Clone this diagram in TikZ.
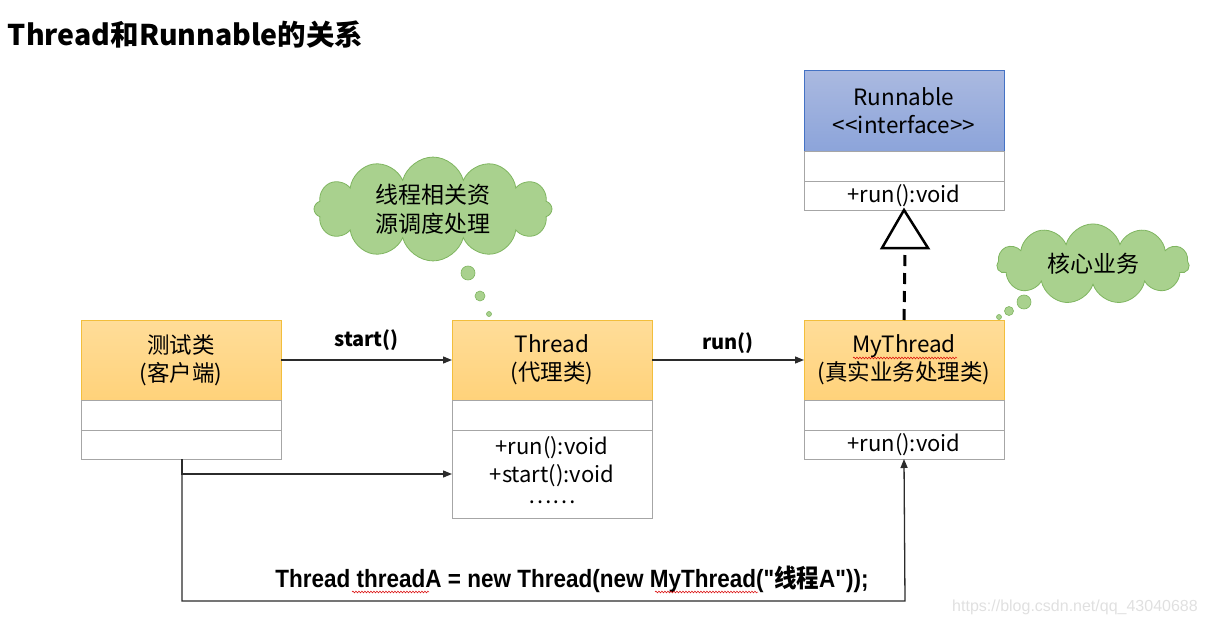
\documentclass[tikz,border=0pt]{standalone}
\usepackage{fontspec}
\setmainfont{Noto Sans CJK SC}
\newfontfamily\codefont[FakeStretch=0.9]{Liberation Sans}
\newfontfamily\codecjk[FakeStretch=0.9]{Noto Sans CJK SC}
\newfontfamily\wmfont{Liberation Sans}
\usetikzlibrary{shapes.symbols,arrows.meta,decorations.pathmorphing}
\definecolor{hdrtop}{HTML}{FFDD99}
\definecolor{hdrbot}{HTML}{FFD27A}
\definecolor{hdrline}{HTML}{F2BE3C}
\definecolor{ifctop}{HTML}{AAB9E0}
\definecolor{ifcbot}{HTML}{8CA4DA}
\definecolor{ifcline}{HTML}{4472C4}
\definecolor{boxline}{HTML}{A6A6A6}
\definecolor{cloudfill}{HTML}{A9D18E}
\definecolor{cloudline}{HTML}{7FB560}
\definecolor{conn}{HTML}{2B2B2B}
\begin{document}
\begin{tikzpicture}[x=1pt,y=-1pt,
  every node/.style={inner sep=0pt,outer sep=0pt},
  hdr/.style={draw=hdrline,line width=1pt,top color=hdrtop,bottom color=hdrbot,minimum width=200pt,minimum height=80pt,anchor=north west,align=center,font=\fontsize{22.5}{28}\selectfont},
  ifchdr/.style={hdr,draw=ifcline,top color=ifctop,bottom color=ifcbot},
  cmp/.style={draw=boxline,line width=1pt,fill=white,minimum width=200pt,anchor=north west,align=center,font=\fontsize{22}{28}\selectfont},
  bubble/.style={draw=cloudline,line width=0.8pt,fill=cloudfill,shape=cloud,align=center,font=\fontsize{23}{29}\selectfont},
  dot/.style={draw=cloudline,line width=0.6pt,fill=cloudfill,circle},
  conline/.style={draw=conn,line width=1.3pt},
  arr/.style={conline,-{Triangle[length=9pt,width=7pt]}},
  lbl/.style={font=\bfseries\fontsize{20}{24}\selectfont},
  wavy/.style={draw=red!85!black,line width=0.5pt,decorate,decoration={snake,amplitude=0.9pt,segment length=3pt}}
]
\useasboundingbox (0,0) rectangle (1205,626);

% title
\node[anchor=west,font=\bfseries\fontsize{28.5}{32}\selectfont] (title) at (8,35) {Thread和Runnable的关系};

% test class
\node[hdr] (th) at (81,320) {测试类\\(客户端)};
\node[cmp,minimum height=30pt] (ta) at (81,400) {};
\node[cmp,minimum height=29pt] (tm) at (81,430) {};

% Thread class
\node[hdr] (hh) at (452,320) {Thread\\(代理类)};
\node[cmp,minimum height=30pt] (ha) at (452,400) {};
\node[cmp,minimum height=88pt] (hm) at (452,430) {};
\node[anchor=north,align=center,font=\fontsize{22}{28}\selectfont] (hmt) at (552,436) {+run():void\\+start():void\\[-7pt]……};

% MyThread class
\node[hdr] (mh) at (804,320) {MyThread\\(真实业务处理类)};
\node[cmp,minimum height=30pt] (ma) at (804,400) {};
\node[cmp,minimum height=29pt] (mm) at (804,430) {+run():void};

% Runnable interface
\node[ifchdr] (rh) at (804,71) {Runnable\\<{}<interface>{}>};
\node[cmp,minimum height=30pt] (ra) at (804,151) {};
\node[cmp,minimum height=29pt] (rm) at (804,181) {+run():void};

% spell-check underline under MyThread
\draw[wavy] (853,358) -- (957,358);

% connectors
\draw[arr] (th.east) -- node[lbl,above=9pt] (lstart) {start()} (hh.west);
\draw[arr] (hh.east) -- node[lbl,above=6pt] (lrun) {run()} (mh.west);

\coordinate (c0) at (182,459);
\coordinate (c1) at (182,474);
\coordinate (c2) at (182,601);
\coordinate (c3) at (905,601);
\draw[arr] (c0) -- (c1) -- (hm.west |- c1);
\draw[arr] (c1) -- (c2) -- (c3) -- (mm.south);

\node[font=\codefont\bfseries\fontsize{25}{28}\selectfont] (code) at (572,579) {Thread threadA = new Thread(new MyThread("{\codecjk\bfseries 线程}A"));};
\draw[wavy] (352,592) -- (429,592);
\draw[wavy] (655,592) -- (758,592);

% realization
\coordinate (tb) at (905,248);
\draw[draw=black,line width=3pt,dash pattern=on 11pt off 7pt] (mh.north) -- (tb);
\draw[draw=black,line width=2.5pt,fill=white,line join=miter] (rm.south) -- (882,248) -- (928,248) -- cycle;

% clouds
\node[bubble,cloud puffs=12,aspect=2.5,minimum width=238pt,minimum height=96pt] (cl1) at (433,209) {线程相关资\\源调度处理};
\node[dot,minimum size=14pt] (d11) at (468,273) {};
\node[dot,minimum size=10pt] (d12) at (480,296) {};
\node[dot,minimum size=5pt] (d13) at (489,314) {};

\node[bubble,cloud puffs=11,aspect=2.4,minimum width=192pt,minimum height=80pt] (cl2) at (1093,264) {核心业务};
\node[dot,minimum size=14pt] (d21) at (1024,302) {};
\node[dot,minimum size=9pt] (d22) at (1009,311) {};
\node[dot,minimum size=5pt] (d23) at (999,317) {};

% watermark
\node[font=\wmfont\fontsize{16}{18}\selectfont,text=black!12] (wm) at (1075,607) {https://blog.csdn.net/qq\_43040688};
\end{tikzpicture}
\end{document}
